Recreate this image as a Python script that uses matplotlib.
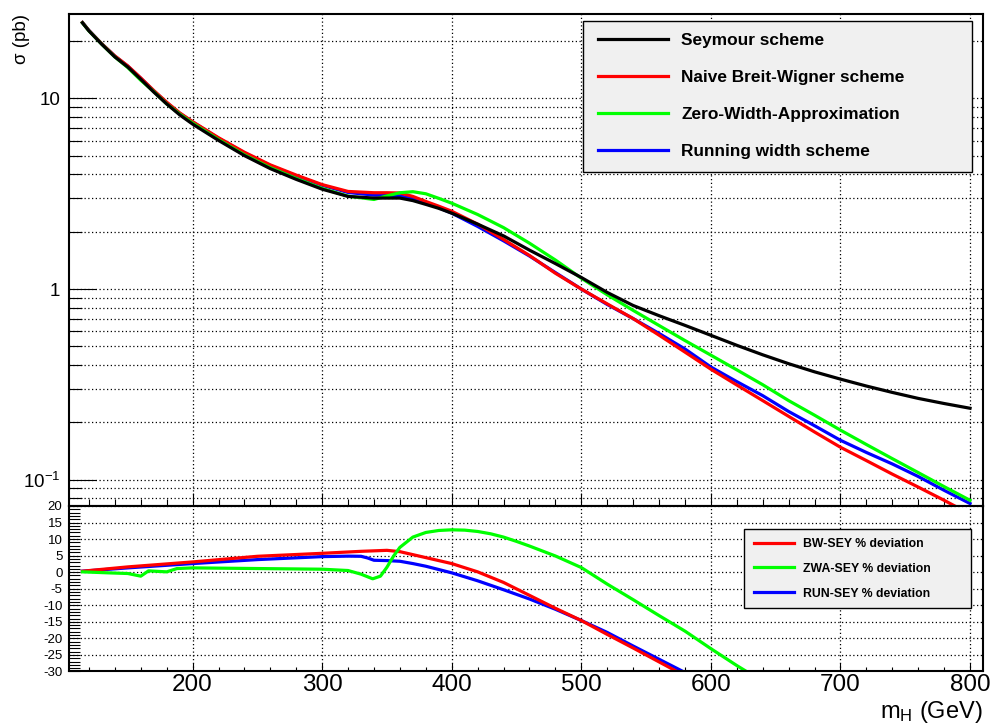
import matplotlib
matplotlib.use("Agg")
import matplotlib.pyplot as plt
from matplotlib.ticker import MultipleLocator, LogLocator, NullFormatter, FixedLocator
from matplotlib.legend_handler import HandlerLine2D
from matplotlib.lines import Line2D
import numpy as np

plt.rcParams['font.family'] = ['Liberation Sans', 'DejaVu Sans']
plt.rcParams['mathtext.fontset'] = 'custom'
plt.rcParams['mathtext.rm'] = 'Liberation Sans'
plt.rcParams['mathtext.it'] = 'Liberation Sans:italic'
plt.rcParams['axes.unicode_minus'] = False

# Higgs mass points (GeV) for the cross sections
mh = [115, 120, 130, 140, 150, 160, 170, 180, 190, 200, 220, 240, 260, 280, 300,
      320, 340, 350, 360, 370, 380, 390, 400, 420, 440, 460, 480, 500, 520, 540,
      560, 580, 600, 620, 640, 660, 680, 700, 720, 740, 760, 780, 800]

# sigma (pb)
sig_sey = [24.9, 22.6, 19.2, 16.5, 14.6, 12.6, 10.8, 9.35, 8.2, 7.33, 6.02, 5.01, 4.28, 3.76, 3.34,
           3.06, 3.0, 3.0, 3.0, 2.91, 2.78, 2.65, 2.50, 2.19, 1.90, 1.60, 1.36, 1.15, 0.96, 0.82,
           0.725, 0.645, 0.572, 0.507, 0.452, 0.406, 0.368, 0.337, 0.310, 0.287, 0.267, 0.251, 0.237]
sig_bw = [25.0, 22.7, 19.3, 16.7, 14.8, 12.8, 11.0, 9.55, 8.4, 7.55, 6.22, 5.22, 4.48, 3.96, 3.53,
          3.25, 3.2, 3.2, 3.19, 3.06, 2.88, 2.72, 2.56, 2.19, 1.82, 1.50, 1.21, 1.0, 0.836, 0.70,
          0.573, 0.467, 0.38, 0.314, 0.26, 0.215, 0.178, 0.148, 0.126, 0.107, 0.0915, 0.078, 0.066]
sig_zwa = [24.9, 22.6, 19.2, 16.5, 14.5, 12.45, 10.85, 9.36, 8.28, 7.42, 6.08, 5.06, 4.33, 3.80, 3.37,
           3.07, 2.95, 3.08, 3.20, 3.24, 3.16, 2.99, 2.82, 2.46, 2.10, 1.74, 1.42, 1.14, 0.933, 0.773,
           0.644, 0.537, 0.45, 0.377, 0.315, 0.26, 0.218, 0.182, 0.153, 0.129, 0.109, 0.092, 0.078]
sig_run = [25.0, 22.7, 19.3, 16.65, 14.75, 12.75, 10.95, 9.5, 8.35, 7.52, 6.18, 5.18, 4.44, 3.92, 3.50,
           3.21, 3.11, 3.10, 3.08, 2.98, 2.83, 2.67, 2.50, 2.13, 1.79, 1.49, 1.22, 1.0, 0.83, 0.70,
           0.585, 0.485, 0.39, 0.327, 0.276, 0.228, 0.192, 0.161, 0.139, 0.121, 0.104, 0.088, 0.075]

# % deviations from the Seymour scheme
mh_bw = [115, 150, 200, 250, 300, 330, 350, 360, 370, 380, 400, 420, 440, 460, 480, 500,
         520, 540, 560, 580, 600]
dev_bw = [0.3, 1.6, 3.1, 4.8, 5.7, 6.3, 6.6, 6.2, 5.3, 4.4, 2.6, 0.1, -3.1, -7.0, -10.9, -14.6,
          -18.8, -22.9, -27.1, -31.3, -35.0]
mh_run = [115, 150, 200, 250, 300, 320, 330, 335, 340, 350, 360, 370, 380, 400, 420, 440,
          460, 480, 500, 520, 540, 560, 580, 600]
dev_run = [0.3, 1.3, 2.6, 3.8, 4.7, 4.85, 4.8, 4.3, 3.6, 3.5, 3.3, 2.6, 1.8, -0.2, -2.6, -5.3,
           -8.1, -11.2, -14.6, -18.2, -22.3, -26.3, -30.3, -34.0]
mh_zwa = [115, 135, 150, 160, 166, 180, 188, 200, 250, 300, 320, 330, 339, 345, 350, 355,
          360, 370, 380, 390, 400, 410, 420, 430, 440, 450, 460, 480, 500, 520, 540, 560,
          580, 600, 620, 640]
dev_zwa = [0.1, -0.2, -0.4, -1.2, 0.4, 0.1, 1.1, 1.3, 1.1, 0.9, 0.5, -0.6, -2.0, -1.2, 1.5, 4.8,
           7.5, 10.6, 12.0, 12.6, 12.8, 12.7, 12.3, 11.6, 10.6, 9.3, 7.9, 4.9, 1.4, -3.6, -8.3, -13.1,
           -17.8, -23.1, -28.2, -33.0]

fig = plt.figure(figsize=(9.9, 7.25), dpi=100)
ax1 = fig.add_axes([0.0702, 0.30207, 0.9227, 0.6786])
ax2 = fig.add_axes([0.0702, 0.0738, 0.9227, 0.2283])

lw = 2.3
grid_kw = dict(color='black', linestyle=(0, (1, 2)), linewidth=0.9)

# ---- upper pad
ax1.plot(mh, sig_run, color='#0000ff', lw=lw, label='Running width scheme')
ax1.plot(mh, sig_bw, color='#ff0000', lw=lw, label='Naive Breit-Wigner scheme')
ax1.plot(mh, sig_zwa, color='#00ff00', lw=lw, label='Zero-Width-Approximation')
ax1.plot(mh, sig_sey, color='black', lw=lw, label='Seymour scheme')
ax1.set_yscale('log')
ax1.set_xlim(105, 810)
ax1.set_ylim(0.0728, 27.7)
ax1.xaxis.set_major_locator(MultipleLocator(100))
ax1.xaxis.set_minor_locator(MultipleLocator(20))
ax1.xaxis.set_major_formatter(NullFormatter())
ax1.yaxis.set_major_locator(FixedLocator([0.1, 1, 10]))
ax1.yaxis.set_minor_locator(LogLocator(base=10, subs=np.arange(2, 10)))
ax1.yaxis.set_minor_formatter(NullFormatter())
ax1.set_yticklabels(['10$^{-1}$', '1', '10'])
ax1.tick_params(axis='x', which='major', direction='in', length=9.4, width=0.8)
ax1.tick_params(axis='x', which='minor', direction='in', length=4.7, width=0.8)
ax1.tick_params(axis='y', which='major', direction='in', length=19.4, width=0.8,
                labelsize=13.5, pad=6.5)
ax1.tick_params(axis='y', which='minor', direction='in', length=9, width=0.8)
ax1.grid(True, which='major', axis='x', **grid_kw)
ax1.grid(True, which='both', axis='y', **grid_kw)
for s in ax1.spines.values():
    s.set_linewidth(1.5)
ax1.text(-0.052, 1.0, 'σ (pb)', transform=ax1.transAxes, rotation=90,
         ha='center', va='top', fontsize=13.5)

h = {l.get_label(): l for l in ax1.get_lines()}
order = ['Seymour scheme', 'Naive Breit-Wigner scheme', 'Zero-Width-Approximation',
         'Running width scheme']
leg1 = ax1.legend([h[k] for k in order], order, loc='upper left', mode='expand',
                  bbox_to_anchor=(0.5621, 0.0, 0.4259, 0.9858), borderaxespad=0,
                  prop={'weight': 'bold', 'size': 12.4}, fancybox=False, framealpha=1,
                  facecolor='#f0f0f0', edgecolor='black', borderpad=0.72,
                  labelspacing=1.27, handlelength=4.19, handletextpad=0.81,
                  handler_map={Line2D: HandlerLine2D(xpad=0.18)})
leg1.get_frame().set_linewidth(1.0)

# ---- lower pad
ax2.plot(mh_run, dev_run, color='#0000ff', lw=lw, label='RUN-SEY % deviation')
ax2.plot(mh_bw, dev_bw, color='#ff0000', lw=lw, label='BW-SEY % deviation')
ax2.plot(mh_zwa, dev_zwa, color='#00ff00', lw=lw, label='ZWA-SEY % deviation')
ax2.set_xlim(105, 810)
ax2.set_ylim(-30, 20)
ax2.xaxis.set_major_locator(MultipleLocator(100))
ax2.xaxis.set_minor_locator(MultipleLocator(20))
ax2.yaxis.set_major_locator(MultipleLocator(5))
ax2.yaxis.set_minor_locator(MultipleLocator(1))
ax2.tick_params(axis='x', which='major', direction='in', length=5.8, width=0.8,
                labelsize=17.5, pad=1.5)
ax2.tick_params(axis='x', which='minor', direction='in', length=3.2, width=0.8)
ax2.tick_params(axis='y', which='both', direction='in', length=7.9, width=0.8,
                labelsize=9.5, pad=5)
ax2.grid(True, which='major', **grid_kw)
for s in ax2.spines.values():
    s.set_linewidth(1.5)
ax2.text(1.0, -0.281, r'm$_{\rm H}$ (GeV)', transform=ax2.transAxes,
         ha='right', va='baseline', fontsize=17)

h2 = {l.get_label(): l for l in ax2.get_lines()}
order2 = ['BW-SEY % deviation', 'ZWA-SEY % deviation', 'RUN-SEY % deviation']
leg2 = ax2.legend([h2[k] for k in order2], order2, loc='upper left', mode='expand',
                  bbox_to_anchor=(0.7384, 0.0, 0.2485, 0.861), borderaxespad=0,
                  prop={'weight': 'bold', 'size': 8.8}, fancybox=False, framealpha=1,
                  facecolor='#f0f0f0', edgecolor='black', borderpad=0.72,
                  labelspacing=1.06, handlelength=3.33, handletextpad=0.77,
                  handler_map={Line2D: HandlerLine2D(xpad=0.08)})
leg2.get_frame().set_linewidth(1.0)

fig.savefig('out.png', dpi=100)
